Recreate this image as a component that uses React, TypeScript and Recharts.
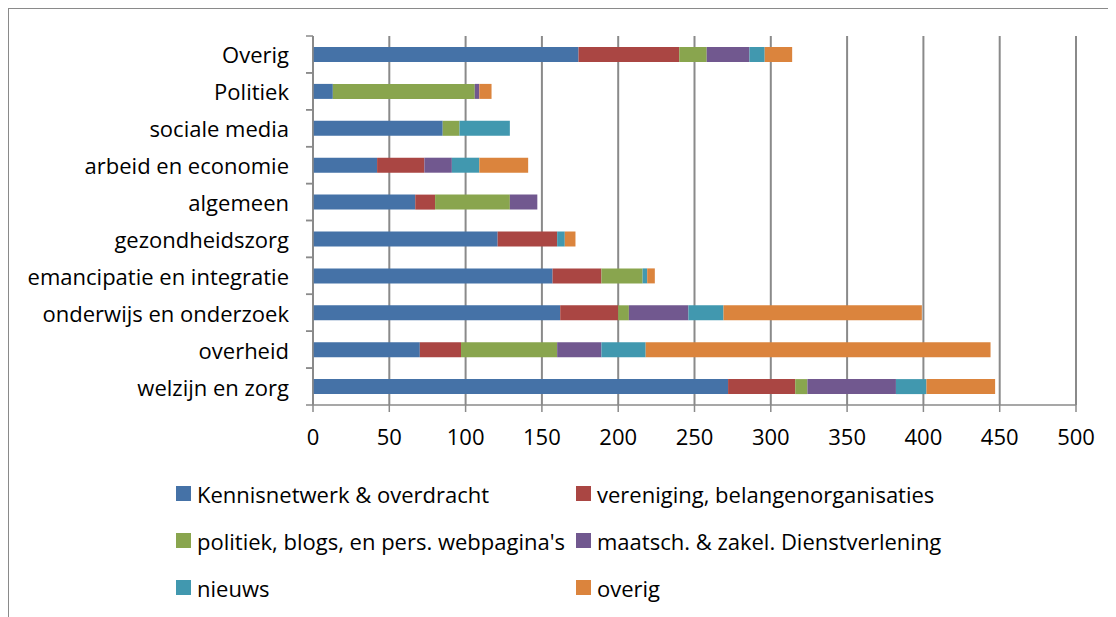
import React from 'react';
import { BarChart, Bar, XAxis, YAxis, CartesianGrid } from 'recharts';

// categories from top to bottom, as shown in the chart
const CATEGORIES = [
  'Overig',
  'Politiek',
  'sociale media',
  'arbeid en economie',
  'algemeen',
  'gezondheidszorg',
  'emancipatie en integratie',
  'onderwijs en onderzoek',
  'overheid',
  'welzijn en zorg',
];

const KENNISNETWERK = [174, 13, 85, 42, 67, 121, 157, 162, 70, 272];
const VERENIGING = [66, 0, 0, 31, 13, 39, 32, 38, 27, 44];
const POLITIEK_BLOGS = [18, 93, 11, 0, 49, 0, 27, 7, 63, 8];
const MAATSCH = [28, 3, 0, 18, 18, 0, 0, 39, 29, 58];
const NIEUWS = [10, 0, 33, 18, 0, 5, 3, 23, 29, 20];
const OVERIG = [18, 8, 0, 32, 0, 7, 5, 130, 226, 45];

const X_TICKS = [0, 50, 100, 150, 200, 250, 300, 350, 400, 450, 500];

const SERIES = [
  { key: 'kennis', name: 'Kennisnetwerk & overdracht', color: '#4572A7', values: KENNISNETWERK },
  { key: 'vereniging', name: 'vereniging, belangenorganisaties', color: '#AA4643', values: VERENIGING },
  { key: 'politiek', name: "politiek, blogs, en pers. webpagina's", color: '#89A54E', values: POLITIEK_BLOGS },
  { key: 'maatsch', name: 'maatsch. & zakel. Dienstverlening', color: '#71588F', values: MAATSCH },
  { key: 'nieuws', name: 'nieuws', color: '#4198AF', values: NIEUWS },
  { key: 'overig', name: 'overig', color: '#DB843D', values: OVERIG },
];

const chartData = CATEGORIES.map((cat, i) => {
  const row: Record<string, string | number> = { category: cat };
  SERIES.forEach((s) => {
    row[s.key] = s.values[i];
  });
  return row;
});

const FONT = '"Open Sans", sans-serif';
const AXIS_GRAY = '#8a8a8a';
const PLOT_HEIGHT = 369;

// Excel style: label on the left, small tick marks between categories
const CategoryTick = ({ x, y, payload }: any) => {
  const half = PLOT_HEIGHT / CATEGORIES.length / 2;
  return (
    <g>
      <line x1={x - 7} x2={x} y1={y - half} y2={y - half} stroke={AXIS_GRAY} strokeWidth={1.5} />
      <line x1={x - 7} x2={x} y1={y + half} y2={y + half} stroke={AXIS_GRAY} strokeWidth={1.5} />
      <text x={x - 24} y={y} textAnchor="end" dominantBaseline="central" fontSize={22} fill="#000" fontFamily={FONT}>
        {payload.value}
      </text>
    </g>
  );
};

export default function App() {
  return (
    <div
      style={{
        position: 'relative',
        width: 1107,
        height: 608,
        borderTop: '1px solid #8a8a8a',
        borderLeft: '1px solid #8a8a8a',
        background: '#fff',
        fontFamily: FONT,
      }}
    >
      <BarChart
        width={1107}
        height={608}
        data={chartData}
        layout="vertical"
        barSize={15}
        margin={{ top: 27, right: 40, left: 14, bottom: 172 }}
      >
        <CartesianGrid horizontal={false} stroke={AXIS_GRAY} strokeWidth={2} />
        <XAxis
          type="number"
          domain={[0, 500]}
          ticks={X_TICKS}
          height={40}
          tickSize={7}
          tickMargin={17}
          axisLine={{ stroke: AXIS_GRAY, strokeWidth: 1.5 }}
          tickLine={{ stroke: AXIS_GRAY, strokeWidth: 1.5 }}
          tick={{ fontSize: 22, fill: '#000', fontFamily: FONT }}
        />
        <YAxis
          type="category"
          dataKey="category"
          width={290}
          tickSize={0}
          tickMargin={0}
          tickLine={false}
          axisLine={{ stroke: AXIS_GRAY, strokeWidth: 1.5 }}
          tick={<CategoryTick />}
          interval={0}
        />
        {SERIES.map((s) => (
          <Bar key={s.key} dataKey={s.key} name={s.name} stackId="a" fill={s.color} isAnimationActive={false} />
        ))}
      </BarChart>

      {/* legend: two columns, three rows */}
      <div
        style={{
          position: 'absolute',
          left: 167,
          top: 461,
          display: 'grid',
          gridTemplateColumns: '400px 400px',
          gridAutoRows: '47px',
          fontSize: 22,
          color: '#000',
        }}
      >
        {SERIES.map((s) => (
          <div key={s.key} style={{ display: 'flex', alignItems: 'center', whiteSpace: 'nowrap' }}>
            <span style={{ width: 15, height: 15, background: s.color, marginRight: 6, display: 'inline-block' }} />
            <span>{s.name}</span>
          </div>
        ))}
      </div>
    </div>
  );
}
